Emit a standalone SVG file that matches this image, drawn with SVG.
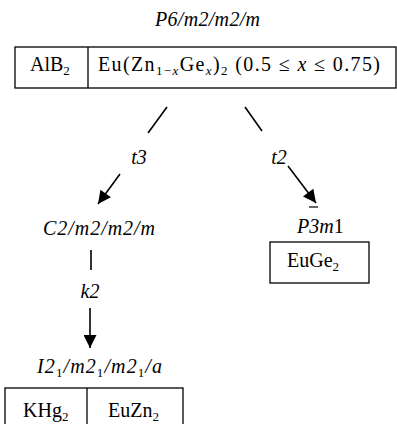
<svg xmlns="http://www.w3.org/2000/svg" width="397" height="424" viewBox="0 0 397 424">
<style>
text{font-family:"Liberation Serif","Times New Roman",serif;font-size:20px;fill:#000}
.i{font-style:italic}
.n{font-style:normal}
.sub{font-size:13px}
.box{fill:none;stroke:#000;stroke-width:1.3}
.ln{stroke:#000;stroke-width:1.6;fill:none}
</style>
<defs>
<marker id="ah" viewBox="0 0 10 10" refX="10" refY="5" markerWidth="16" markerHeight="13" markerUnits="userSpaceOnUse" orient="auto">
<path d="M0,0 L10,5 L0,10 Z" fill="#000"/>
</marker>
</defs>
<g id="top">
<text class="i" x="155" y="26" textLength="105" lengthAdjust="spacing">P6/m2/m2/m</text>
<rect class="box" x="15" y="47" width="381" height="41"/>
<line class="box" x1="88" y1="47" x2="88" y2="88"/>
<text x="30" y="71">AlB<tspan class="sub" dy="4">2</tspan></text>
<text x="98" y="71" font-size="21" textLength="282" lengthAdjust="spacing">Eu(Zn<tspan class="sub" dy="4">1−</tspan><tspan class="sub i">x</tspan><tspan dy="-4">Ge</tspan><tspan class="sub i" dy="4">x</tspan><tspan dy="-4">)</tspan><tspan class="sub" dy="4">2</tspan><tspan dy="-4"> (0.5 ≤ </tspan><tspan class="i">x</tspan><tspan> ≤ 0.75)</tspan></text>
</g>
<g id="c2">
<text class="i" x="43" y="235" textLength="112" lengthAdjust="spacing">C2/m2/m2/m</text>
</g>
<g id="p3m1">
<text class="i" x="297" y="233">P3m<tspan class="n">1</tspan></text>
<line x1="309" y1="207" x2="318" y2="207" stroke="#000" stroke-width="1.2"/>
<rect class="box" x="270" y="242" width="99" height="41"/>
<text x="287" y="267">EuGe<tspan class="sub" dy="4">2</tspan></text>
</g>
<g id="i2">
<text class="i" x="37" y="373" textLength="125" lengthAdjust="spacing">I2<tspan class="sub n" dy="4">1</tspan><tspan dy="-4">/m2</tspan><tspan class="sub n" dy="4">1</tspan><tspan dy="-4">/m2</tspan><tspan class="sub n" dy="4">1</tspan><tspan dy="-4">/a</tspan></text>
<rect class="box" x="5" y="388" width="178" height="50"/>
<line class="box" x1="87" y1="388" x2="87" y2="424"/>
<text x="23" y="417">KHg<tspan class="sub" dy="4">2</tspan></text>
<text x="108" y="417">EuZn<tspan class="sub" dy="4">2</tspan></text>
</g>
<g id="connectors">
<line class="ln" x1="167" y1="107" x2="148" y2="133"/>
<line class="ln" x1="245" y1="107" x2="262" y2="131"/>
<line class="ln" x1="120" y1="174" x2="98" y2="204" marker-end="url(#ah)"/>
<line class="ln" x1="288" y1="166" x2="316" y2="203" marker-end="url(#ah)"/>
<line class="ln" x1="91" y1="250" x2="91" y2="270"/>
<line class="ln" x1="90" y1="308" x2="90" y2="348" marker-end="url(#ah)"/>
<text class="i" x="139" y="164" text-anchor="middle">t3</text>
<text class="i" x="279" y="164" text-anchor="middle">t2</text>
<text class="i" x="90" y="298" text-anchor="middle">k2</text>
</g>
</svg>
